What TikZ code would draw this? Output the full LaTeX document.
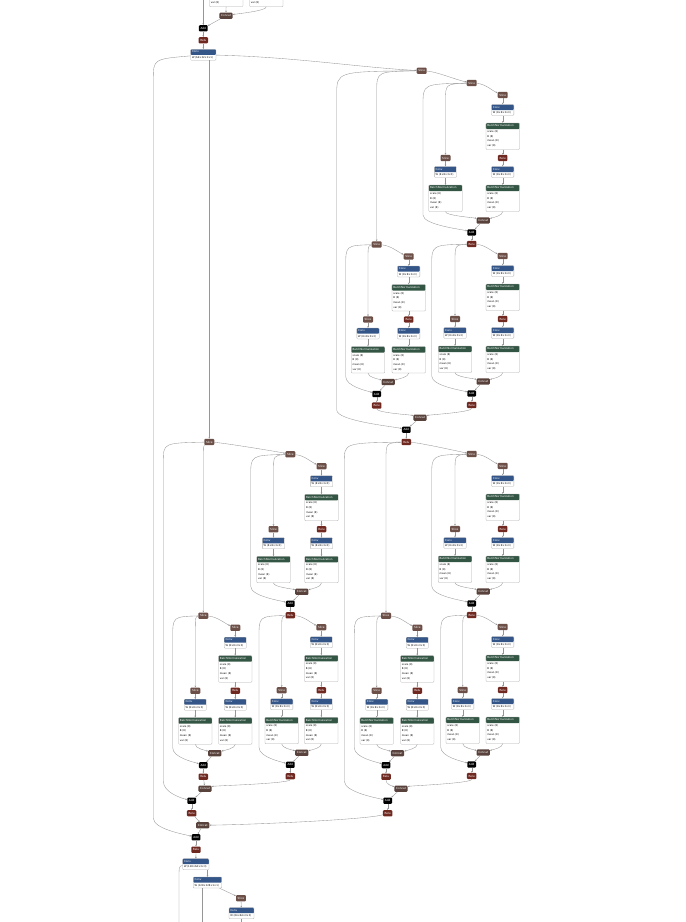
\documentclass[tikz,border=0pt]{standalone}
\usepackage{fontspec}
\setmainfont{DejaVu Sans}
\usetikzlibrary{arrows.meta,calc}
\definecolor{convc}{RGB}{51,85,136}
\definecolor{bnc}{RGB}{51,85,68}
\definecolor{reluc}{RGB}{112,41,33}
\definecolor{slicec}{RGB}{108,79,71}
\definecolor{catc}{RGB}{89,66,59}
\definecolor{edgec}{RGB}{150,150,150}
\definecolor{bordc}{RGB}{175,175,175}
\tikzset{
 x=1pt, y=-1pt,
 lbl/.style={rectangle, rounded corners=1pt, inner xsep=1.7pt, inner ysep=0pt, minimum height=6.2pt, text=white, font=\fontsize{2.8}{3}\selectfont},
 slc/.style={lbl, fill=slicec},
 cat/.style={lbl, fill=catc},
 rlu/.style={lbl, fill=reluc},
 addn/.style={lbl, fill=black},
 edg/.style={draw=edgec, line width=0.35pt, -{Stealth[length=1.8pt,width=1.6pt]}},
 edgn/.style={draw=edgec, line width=0.35pt},
 convbox/.style={rectangle, draw=bordc, line width=0.3pt, fill=white, rounded corners=0.9pt, minimum height=11pt, inner sep=0pt,
   path picture={\fill[convc] (path picture bounding box.north west) rectangle ([yshift=-5.5pt]path picture bounding box.north east);}},
 bnbox/.style={rectangle, draw=bordc, line width=0.3pt, fill=white, rounded corners=0.9pt, minimum width=33.5pt, minimum height=26.5pt, inner sep=0pt,
   path picture={\fill[bnc] (path picture bounding box.north west) rectangle ([yshift=-6pt]path picture bounding box.north east);}},
 hdtxt/.style={anchor=west, inner sep=0pt, text=white, font=\fontsize{2.7}{3}\selectfont},
 bdtxt/.style={anchor=west, inner sep=0pt, text=black, font=\fontsize{2.5}{4.7}\selectfont},
}
% Conv box: [text]{name}{cx}{ytop}{width}
\newcommand\convb[5][W ⟨8×8×3×3⟩]{%
  \node[convbox, minimum width=#5pt] (#2) at (#3,#4+5.5) {};
  \node[hdtxt] at ([xshift=1.3pt,yshift=-2.75pt]#2.north west) {Conv};
  \node[bdtxt] at ([xshift=1.3pt,yshift=2.75pt]#2.south west) {#1};
}
% BatchNormalization box: {name}{cx}{ytop}
\newcommand\bnb[3]{%
  \node[bnbox] (#1) at (#2,#3+13.25) {};
  \node[hdtxt] at ([xshift=1.3pt,yshift=-3pt]#1.north west) {BatchNormalization};
  \node[bdtxt, anchor=north west, align=left] at ([xshift=1.3pt,yshift=-7.6pt]#1.north west) {scale ⟨8⟩\\B ⟨8⟩\\mean ⟨8⟩\\var ⟨8⟩};
}
% joins: into a node from a lower-left / lower-right diagonal
\newcommand\inL[2]{\draw[edg] (#1.south) .. controls ($(#1.south)+(0,4)$) and ($(#2)+(-10,-3)$) .. (#2);}
\newcommand\inR[2]{\draw[edg] (#1.south) .. controls ($(#1.south)+(0,4)$) and ($(#2)+(10,-3)$) .. (#2);}
% sub block: {prefix}{split node}{sx}{sy}{skipX}{leftX}{rightX}
\newcommand\sub[7]{%
 \node[slc] (#1sr) at (#7,#4+12) {Slice};
 \convb{#1c1}{#7}{#4+21.5}{22.3}
 \bnb{#1b1}{#7}{#4+40}
 \node[rlu] (#1r) at (#7,#4+75) {Relu};
 \convb{#1c2}{#7}{#4+83.5}{22.3}
 \bnb{#1b2}{#7}{#4+102}
 \node[slc] (#1sl) at (#6,#4+75) {Slice};
 \convb{#1c3}{#6}{#4+83.5}{22.3}
 \bnb{#1b3}{#6}{#4+102}
 \node[cat] (#1cat) at (#3+11.5,#4+137.5) {Concat};
 \node[addn] (#1add) at (#3,#4+149.5) {Add};
 \node[rlu] (#1out) at (#3,#4+161) {Relu};
 \draw[edg] (#2) .. controls ($(#2)+(14,1)$) and ($(#1sr)+(-10,-4)$) .. (#1sr);
 \draw[edg] (#1sr) -- (#1c1);
 \draw[edg] (#1c1) -- (#1b1);
 \draw[edg] (#1b1) -- (#1r);
 \draw[edg] (#1r) -- (#1c2);
 \draw[edg] (#1c2) -- (#1b2);
 \draw[edg] (#2) .. controls (#6,#4+1) .. (#6,#4+18) -- (#1sl);
 \draw[edg] (#1sl) -- (#1c3);
 \draw[edg] (#1c3) -- (#1b3);
 \inL{#1b3}{#1cat}
 \inR{#1b2}{#1cat}
 \draw[edg] (#1cat) -- (#1add);
 \draw[edg] (#2) .. controls (#5,#4+1) .. (#5,#4+22) -- (#5,#4+132) .. controls (#5,#4+142) and ($(#1add)+(-9,-3)$) .. (#1add);
 \draw[edg] (#1add) -- (#1out);
}
\begin{document}
\begin{tikzpicture}
\useasboundingbox (0,0) rectangle (686,922);
\fill[white] (0,0) rectangle (686,922);
\clip (0,0) rectangle (686,922);

% ---- top (end of previous stage) ----
\bnb{topbL}{226.2}{6.7-26.5}
\bnb{topbR}{266.3}{6.7-26.5}
\node[cat] (cat0) at (226,15.7) {Concat};
\node[addn] (add0) at (203.3,28.3) {Add};
\node[rlu] (relu0) at (203.3,40.3) {Relu};
\convb[W ⟨64×32×1×1⟩]{conv0}{203.3}{49.3}{25.3}
\coordinate (topin) at (203.3,-3);
\draw[edg] (topbL) -- (cat0);
\draw[edg] (topbR.south) .. controls ($(topbR.south)+(0,4)$) and ($(cat0)+(12,-2)$) .. (cat0);
\draw[edg] (topin) -- (add0);
\draw[edg] (cat0) -- (add0);
\draw[edg] (add0) -- (relu0);
\draw[edg] (relu0) -- (conv0);

% ---- upper right big block ----
\node[slc] (T1) at (421.7,70.7) {Slice};
\draw[edg] (conv0) .. controls ($(conv0)+(90,2)$) and ($(T1)+(-60,-3)$) .. (T1);
\node[slc] (As) at (471.7,83) {Slice};
\draw[edg] (T1) .. controls ($(T1)+(15,1)$) and ($(As)+(-15,-3)$) .. (As);
\sub{A}{As}{471.7}{83}{423}{445.5}{502.7}
\sub{C}{Aout}{471.7}{244}{431.7}{455}{502.7}
\node[slc] (Bs) at (376.7,244.5) {Slice};
\draw[edg] (T1) .. controls (376.7,71.5) .. (376.7,92) -- (Bs);
\sub{B}{Bs}{376.7}{244.5}{345.7}{368}{408.7}
\node[cat] (URcat) at (420,417.7) {Concat};
\node[addn] (URadd) at (406.3,429.7) {Add};
\node[rlu] (URout) at (406.3,442) {Relu};
\inL{Bout}{URcat}
\inR{Cout}{URcat}
\draw[edg] (URcat) -- (URadd);
\draw[edg] (T1) .. controls (336.7,71.5) .. (336.7,95) -- (336.7,410) .. controls (336.7,421) and ($(URadd)+(-12,-3)$) .. (URadd);
\draw[edg] (URadd) -- (URout);

% ---- lower right big block ----
\node[slc] (Gs) at (471.7,454) {Slice};
\draw[edg] (URout) .. controls ($(URout)+(15,1)$) and ($(Gs)+(-15,-3)$) .. (Gs);
\sub{G}{Gs}{471.7}{454}{431.7}{455}{502.7}
\sub{H}{Gout}{471.7}{615}{440.7}{462.7}{502.7}
\node[slc] (Is) at (386,615.7) {Slice};
\draw[edg] (URout) .. controls (386,443) .. (386,460) -- (Is);
\sub{I}{Is}{386}{615.7}{354.3}{376.7}{417.3}
\node[cat] (LRcat) at (401,788.7) {Concat};
\node[addn] (LRadd) at (387.7,800.7) {Add};
\node[rlu] (LRout) at (387.7,813.3) {Relu};
\inL{Iout}{LRcat}
\inR{Hout}{LRcat}
\draw[edg] (LRcat) -- (LRadd);
\draw[edg] (URout) .. controls (344.3,443) .. (344.3,462) -- (344.3,781) .. controls (344.3,792) and ($(LRadd)+(-12,-3)$) .. (LRadd);
\draw[edg] (LRadd) -- (LRout);

% ---- left big block ----
\node[slc] (Ltop) at (209.3,442) {Slice};
\draw[edg] (conv0.south -| Ltop) -- (Ltop);
\node[slc] (Ds) at (290.3,454.3) {Slice};
\draw[edg] (Ltop) .. controls ($(Ltop)+(15,1)$) and ($(Ds)+(-15,-3)$) .. (Ds);
\sub{D}{Ds}{290.3}{454.3}{250.7}{273.5}{321.5}
\sub{E}{Dout}{290.3}{615.3}{259}{281.7}{321.3}
\node[slc] (Fs) at (203.3,615.7) {Slice};
\draw[edg] (Ltop) .. controls (203.3,446) .. (203.3,458) -- (Fs);
\sub{F}{Fs}{203.3}{615.7}{172.7}{195.3}{235.3}
\node[cat] (Lcat) at (205,788.7) {Concat};
\node[addn] (Ladd) at (191.7,800.7) {Add};
\node[rlu] (Lout) at (191.7,813.3) {Relu};
\draw[edg] (Fout) -- (Lcat);
\inR{Eout}{Lcat}
\draw[edg] (Lcat) -- (Ladd);
\draw[edg] (Ltop) .. controls (163.3,443) .. (163.3,462) -- (163.3,781) .. controls (163.3,792) and ($(Ladd)+(-12,-3)$) .. (Ladd);
\draw[edg] (Ladd) -- (Lout);

% ---- stage end and next stage ----
\node[cat] (Tcat) at (202.7,825.3) {Concat};
\node[addn] (Tadd) at (196,837.3) {Add};
\node[rlu] (Trelu) at (196,849.7) {Relu};
\draw[edg] (Lout) -- (Tcat);
\draw[edg] (LRout) .. controls ($(LRout)+(-20,6)$) and ($(Tcat)+(60,-1)$) .. (Tcat);
\draw[edg] (Tcat) -- (Tadd);
\draw[edg] (conv0) .. controls (153.3,59) .. (153.3,80) -- (153.3,818) .. controls (153.3,829) and ($(Tadd)+(-12,-3)$) .. (Tadd);
\draw[edg] (Tadd) -- (Trelu);
\convb[W ⟨128×64×3×3⟩]{conv1}{195.8}{858.7}{26.3}
\draw[edg] (Trelu) -- (conv1);
\convb[W ⟨128×128×1×1⟩]{conv2}{207.5}{877}{28.4}
\draw[edg] (conv1.south -| conv2) -- (conv2);
\coordinate (d1) at (179,930);
\coordinate (d2) at (201.7,930);
\draw[edgn] (conv1) .. controls (179,866) .. (179,880) -- (d1);
\draw[edgn] (conv2.south -| d2) -- (d2);
\node[slc] (s3) at (241,898.3) {Slice};
\draw[edg] (conv2) -- (s3);
\convb[W ⟨64×64×3×3⟩]{conv3}{241.5}{907.7}{25}
\draw[edg] (s3) -- (conv3);
\coordinate (d3) at (241.5,930);
\draw[edgn] (conv3) -- (d3);
\end{tikzpicture}
\end{document}
